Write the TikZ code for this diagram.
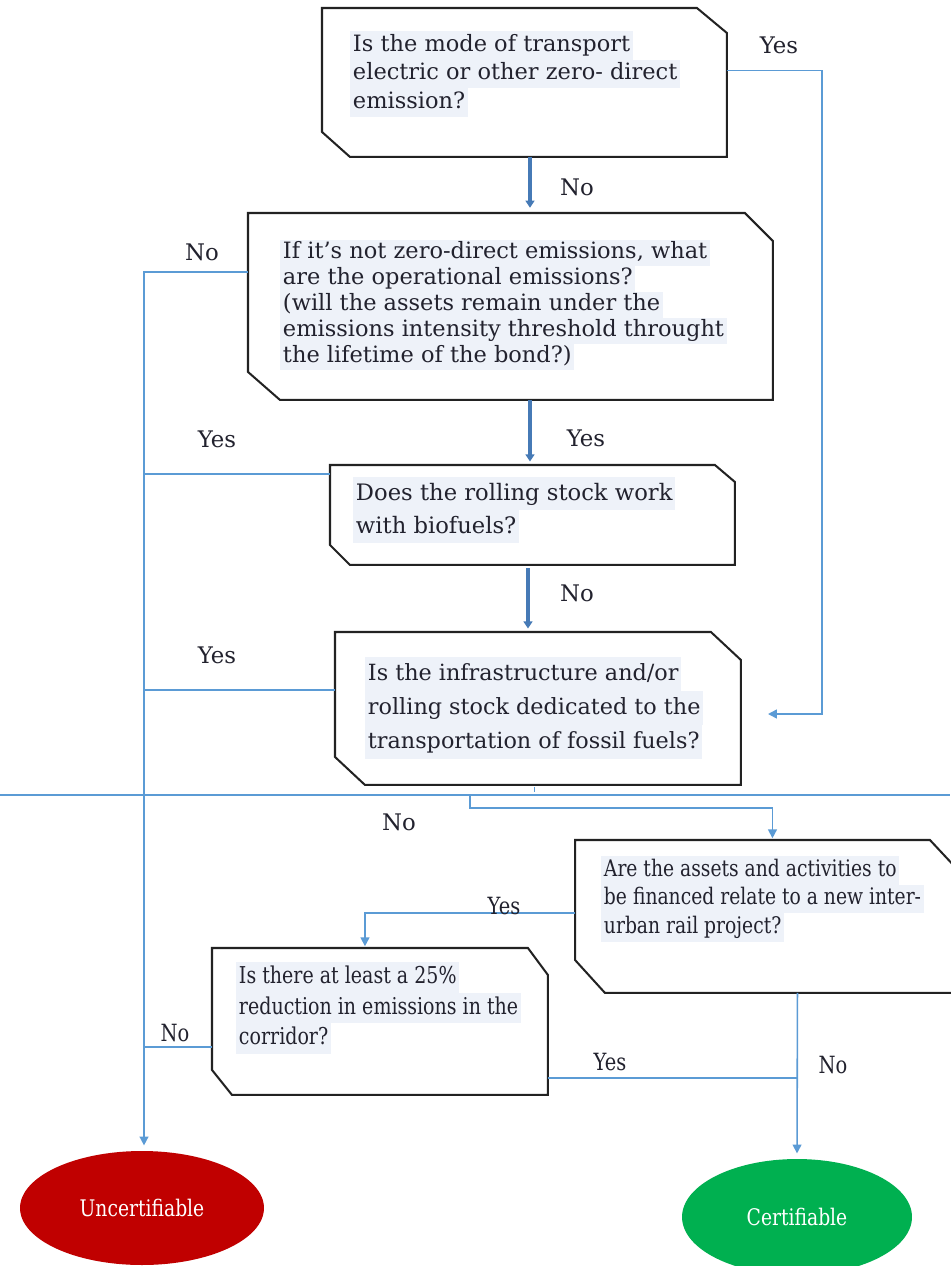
\documentclass[tikz,border=0pt]{standalone}
\usepackage{fontspec}
\setmainfont{DejaVu Serif}
\newfontfamily\condf[FakeStretch=0.82]{DejaVu Serif}
\usetikzlibrary{arrows.meta,calc,shapes.geometric}
\definecolor{hlc}{RGB}{238,242,249}
\definecolor{thinb}{RGB}{91,155,213}
\definecolor{thickb}{RGB}{70,122,182}
\definecolor{txt}{RGB}{34,34,46}
\definecolor{boxc}{RGB}{34,34,34}
\definecolor{redf}{RGB}{192,0,0}
\definecolor{greenf}{RGB}{0,176,80}
\newcommand\hlln[1]{{\setlength{\fboxsep}{0pt}\colorbox{hlc}{\strut\kern1.5pt #1\kern1.5pt}}}
\newcommand\snipdraw[5]{%
  \draw[boxline] (#1.north west) -- ($(#1.north east)+(-#2,0)$) -- ($(#1.north east)+(0,#3)$)
   -- (#1.south east) -- ($(#1.south west)+(#4,0)$) -- ($(#1.south west)+(0,-#5)$) -- cycle;}
\begin{document}
\begin{tikzpicture}[x=0.02cm,y=-0.02cm,
  boxn/.style={draw=none,inner sep=0pt,outer sep=0pt,anchor=north west},
  boxline/.style={draw=boxc,line width=1.15pt,line join=miter},
  qtext/.style={align=left,inner sep=0pt,anchor=north west,text=txt},
  lbl/.style={inner sep=0pt,text=txt,font=\fontsize{13}{14}\selectfont},
  clbl/.style={inner sep=0pt,text=txt,font=\condf\fontsize{13.5}{14}\selectfont},
  thinl/.style={draw=thinb,line width=0.9pt},
  thinarrow/.style={thinl,-{Triangle[length=5pt,width=5pt]}},
  thickl/.style={draw=thickb,line width=2.3pt,-{Triangle[length=4pt,width=5pt]}},
  endn/.style={ellipse,inner sep=0pt,text=white,font=\condf\fontsize{13}{14}\selectfont}
]
\useasboundingbox (0,0) rectangle (950,1266);
\fill[white] (0,0) rectangle (950,1266);

% boxes
\node[boxn,minimum width=8.1cm,minimum height=2.98cm] (b1) at (322,8) {};
\snipdraw{b1}{30}{25}{28}{25}
\node[boxn,minimum width=10.5cm,minimum height=3.74cm] (b2) at (248,213) {};
\snipdraw{b2}{28}{28}{32}{28}
\node[boxn,minimum width=8.1cm,minimum height=2cm] (b3) at (330,465) {};
\snipdraw{b3}{20}{17}{20}{20}
\node[boxn,minimum width=8.12cm,minimum height=3.06cm] (b4) at (335,632) {};
\snipdraw{b4}{30}{28}{30}{28}
\node[boxn,minimum width=7.66cm,minimum height=3.06cm] (b5) at (575,840) {};
\snipdraw{b5}{28}{30}{30}{33}
\node[boxn,minimum width=6.72cm,minimum height=2.94cm] (b6) at (212,948) {};
\snipdraw{b6}{20}{27}{20}{25}

% texts
\node[qtext,font=\fontsize{12.8}{16.2}\selectfont] (t1) at (350,31)
 {\hlln{Is the mode of transport}\\\hlln{electric or other zero- direct}\\\hlln{emission?}};
\node[qtext,font=\fontsize{12.8}{14.8}\selectfont] (t2) at (280,240)
 {\hlln{If it’s not zero-direct emissions, what}\\\hlln{are the operational emissions?}\\\hlln{(will the assets remain under the}\\\hlln{emissions intensity threshold throught}\\\hlln{the lifetime of the bond?)}};
\node[qtext,font=\fontsize{12.9}{18.7}\selectfont] (t3) at (353,477)
 {\hlln{Does the rolling stock work}\\\hlln{with biofuels?}};
\node[qtext,font=\fontsize{12.7}{19.2}\selectfont] (t4) at (365,657)
 {\hlln{Is the infrastructure and/or}\\\hlln{rolling stock dedicated to the}\\\hlln{transportation of fossil fuels?}};
\node[qtext,font=\condf\fontsize{13}{16.2}\selectfont] (t5) at (601,856)
 {\hlln{Are the assets and activities to}\\\hlln{be financed relate to a new inter-}\\\hlln{urban rail project?}};
\node[qtext,font=\condf\fontsize{13.2}{17.3}\selectfont] (t6) at (236,962)
 {\hlln{Is there at least a 25\%}\\\hlln{reduction in emissions in the}\\\hlln{corridor?}};

% end nodes
\node[endn,fill=redf,minimum width=4.88cm,minimum height=2.28cm] (u) at (142,1208) {Uncertifiable};
\node[endn,fill=greenf,minimum width=4.6cm,minimum height=2.32cm] (c) at (797,1217) {Certifiable};

% column coordinates
\coordinate (cA) at (530,0);
\coordinate (cB) at (528,0);
\coordinate (cL) at (144,0);
\coordinate (cR) at (822,0);
\coordinate (y1e) at (768,714);
\coordinate (hl0) at (0,795);
\coordinate (hl1) at (950,795);
\coordinate (n1) at (470,795);
\coordinate (n2) at (470,808);

% thick arrows
\draw[thickl,shorten >=3pt] (b1.south -| cA) -- (b2.north -| cA);
\draw[thickl,shorten >=2pt] (b2.south -| cA) -- (b3.north -| cA);
\draw[thickl,shorten >=2pt,shorten <=2pt] (b3.south -| cB) -- (b4.north -| cB);

% yes from top box to infrastructure box
\draw[thinarrow] ([yshift=0.24cm]b1.east) -| (y1e -| cR) -- (y1e);

% left trunk to Uncertifiable
\draw[thinarrow,shorten >=3pt] ([yshift=0.69cm]b2.west) -| (u.north -| cL);
\draw[thinl] ([yshift=0.82cm]b3.west) coordinate (j3) -- (j3 -| cL);
\draw[thinl] ([yshift=0.37cm]b4.west) coordinate (j4) -- (j4 -| cL);
\draw[thinl] ([yshift=-0.51cm]b6.west) coordinate (j6) -- (j6 -| cL);

% separator line
\draw[thinl] (hl0) -- (hl1);
\draw[thinl,line width=0.6pt] ([xshift=-0.06cm,yshift=-0.04cm]b4.south) -- ++(0,5);

% No from infrastructure to new rail question
\draw[thinarrow,shorten >=1pt] (n1) -- (n2) -| ([xshift=0.12cm]b5.north);

% Yes from b5 to b6
\draw[thinarrow,shorten >=1pt] ([yshift=0.07cm]b5.west) -| ([xshift=-0.3cm]b6.north);

% No from b5 to Certifiable
\draw[thinarrow,shorten >=3pt] ([xshift=0.62cm]b5.south) -- (c.north);
\draw[thinl] ([yshift=-1.13cm]b6.east) coordinate (k6) -- (k6 -| c.north);

% labels
\node[lbl] (l1) at (779,45) {Yes};
\node[lbl] (l2) at (577,187) {No};
\node[lbl] (l3) at (202,252) {No};
\node[lbl] (l4) at (217,439) {Yes};
\node[lbl] (l5) at (586,438) {Yes};
\node[lbl] (l6) at (577,593) {No};
\node[lbl] (l7) at (217,655) {Yes};
\node[lbl] (l8) at (399,822) {No};
\node[clbl] (l9) at (504,906) {Yes};
\node[clbl] (l10) at (175,1033) {No};
\node[clbl] (l11) at (610,1062) {Yes};
\node[clbl] (l12) at (833,1065) {No};
\end{tikzpicture}
\end{document}
